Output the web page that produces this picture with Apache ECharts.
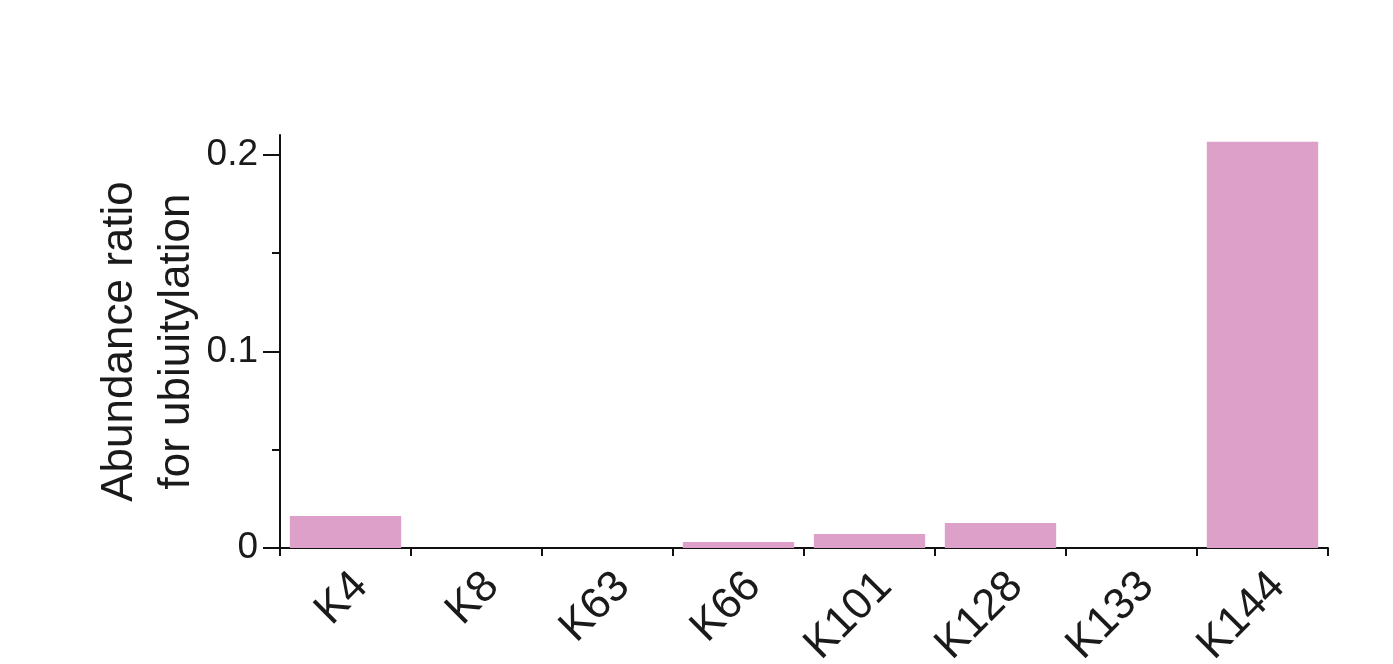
<!DOCTYPE html>
<html>
<head>
<meta charset="utf-8">
<script src="https://cdn.jsdelivr.net/npm/echarts@6/dist/echarts.min.js"></script>
<style>
html,body{margin:0;padding:0;background:#fff;}
#chart{width:1393px;height:664px;}
</style>
</head>
<body>
<div id="chart"></div>
<script>
const categories = ['K4', 'K8', 'K63', 'K66', 'K101', 'K128', 'K133', 'K144'];
const values = [0.0163, 0, 0, 0.003, 0.0071, 0.0127, 0, 0.2066];
const majorTicks = [0, 0.1, 0.2];
const minorTicks = [0.05, 0.15];
const yName = 'Abundance ratio\nfor ubiuitylation';

const FONT = 'Liberation Sans';
const chart = echarts.init(document.getElementById('chart'));
chart.setOption({
  backgroundColor: '#fff',
  animation: false,
  grid: { left: 280, right: 65, top: 135, bottom: 116, containLabel: false, outerBoundsMode: 'none' },
  xAxis: {
    type: 'category',
    data: categories,
    axisLine: { lineStyle: { color: '#111', width: 2 } },
    axisTick: { show: true, alignWithLabel: false, length: 8, lineStyle: { color: '#111', width: 2 } },
    axisLabel: {
      rotate: 45, fontSize: 44, fontFamily: FONT, color: '#1a1a1a',
      margin: 16, interval: 0, verticalAlign: 'top'
    }
  },
  yAxis: [
    {
      type: 'value',
      min: 0,
      max: 0.21,
      name: yName,
      nameLocation: 'middle',
      nameGap: 75,
      nameTextStyle: { fontSize: 44, fontFamily: FONT, color: '#1a1a1a', lineHeight: 57 },
      splitLine: { show: false },
      axisLine: { show: true, lineStyle: { color: '#111', width: 2 } },
      axisTick: { show: true, length: 8, customValues: minorTicks, lineStyle: { color: '#111', width: 2 } },
      axisLabel: { show: false }
    },
    {
      type: 'value',
      min: 0,
      max: 0.21,
      position: 'left',
      splitLine: { show: false },
      axisLine: { show: false },
      axisTick: { show: true, length: 17, customValues: majorTicks, lineStyle: { color: '#111', width: 2 } },
      axisLabel: {
        customValues: majorTicks,
        fontSize: 37, fontFamily: FONT, color: '#1a1a1a', margin: 22,
        formatter: v => (v === 0 ? '0' : String(v))
      }
    }
  ],
  series: [{
    type: 'bar',
    data: values,
    yAxisIndex: 0,
    barCategoryGap: '15%',
    itemStyle: { color: '#dca0c9' }
  }]
});
</script>
</body>
</html>
